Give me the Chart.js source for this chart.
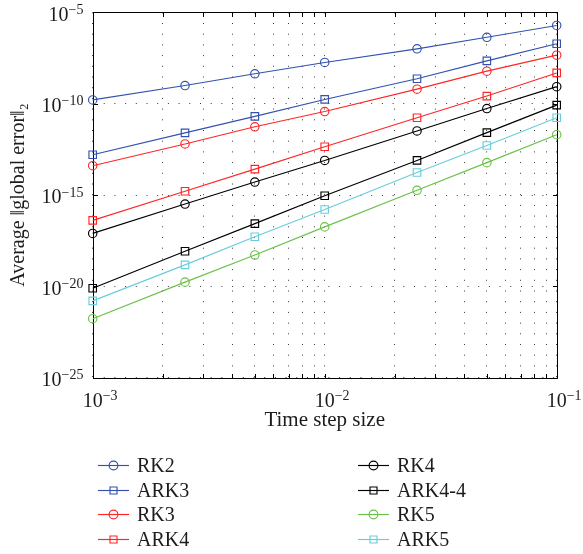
<!DOCTYPE html>
<html><head><meta charset="utf-8">
<script src="https://cdn.jsdelivr.net/npm/chart.js@4/dist/chart.umd.min.js"></script>
<style>html,body{margin:0;padding:0;background:#fff}canvas{display:block}</style>
</head><body>
<canvas id="c" width="583" height="554"></canvas>
<script>
// ---- data ----
const stepSizes = [0.001, 0.0025, 0.005, 0.01, 0.025, 0.05, 0.1];
const seriesNames = ['RK2', 'ARK3', 'RK3', 'ARK4', 'RK4', 'ARK4-4', 'RK5', 'ARK5'];
const rk2   = [1.6e-10, 9.8e-10, 4.3e-9, 1.8e-8, 1.0e-7, 4.3e-7, 1.9e-6];
const ark3  = [1.6e-13, 2.5e-12, 2.0e-11, 1.7e-10, 2.3e-9, 2.2e-8, 1.9e-7];
const rk3   = [4.0e-14, 6.2e-13, 5.4e-12, 3.7e-11, 6.2e-10, 6.0e-9, 4.5e-8];
const ark4  = [4.1e-17, 1.6e-15, 2.6e-14, 4.4e-13, 1.7e-11, 2.6e-10, 4.8e-9];
const rk4   = [7.9e-18, 3.2e-16, 5.1e-15, 7.8e-14, 3.2e-12, 5.4e-11, 8.5e-10];
const ark44 = [7.9e-21, 8.3e-19, 2.7e-17, 9.1e-16, 7.8e-14, 2.6e-12, 8.3e-11];
const rk5   = [1.7e-22, 1.7e-20, 5.2e-19, 1.8e-17, 1.8e-15, 5.9e-14, 2.0e-12];
const ark5  = [1.6e-21, 1.5e-19, 5.2e-18, 1.6e-16, 1.7e-14, 5.1e-13, 1.7e-11];
const seriesValues = [rk2, ark3, rk3, ark4, rk4, ark44, rk5, ark5];

const xTickValues = [0.001, 0.002, 0.003, 0.004, 0.005, 0.006, 0.007, 0.008, 0.009,
                     0.01, 0.02, 0.03, 0.04, 0.05, 0.06, 0.07, 0.08, 0.09, 0.1];
const xMajorValues = [0.001, 0.01, 0.1];
const xMajorExponents = ['−3', '−2', '−1'];
const yTickValues = [1e-25, 1e-20, 1e-15, 1e-10, 1e-5];
const yTickExponents = ['−25', '−20', '−15', '−10', '−5'];
const tickBase = '10';

// ---- styles ----
const BLUE = '#3352AE', RED = '#FF2626', BLACK = '#000000', GREEN = '#6CC04A', CYAN = '#6ACDDC';
const seriesColors = [BLUE, BLUE, RED, RED, BLACK, BLACK, GREEN, CYAN];
const seriesMarkers = ['circle', 'rect', 'circle', 'rect', 'circle', 'rect', 'circle', 'rect'];
const FONT = "'Liberation Serif', 'Times New Roman', serif";
const TEXT = '#1c1c1c';

const datasets = seriesNames.map((name, i) => ({
  label: name,
  data: stepSizes.map((x, j) => ({x: x, y: seriesValues[i][j]})),
  borderColor: seriesColors[i],
  backgroundColor: 'rgba(0,0,0,0)',
  pointBackgroundColor: 'rgba(0,0,0,0)',
  pointBorderColor: seriesColors[i],
  pointStyle: seriesMarkers[i],
  pointRadius: seriesMarkers[i] === 'circle' ? 4.2 : 5.3,
  pointHoverRadius: seriesMarkers[i] === 'circle' ? 4.2 : 5.3,
  pointBorderWidth: 1.15,
  borderWidth: 1.15,
  tension: 0,
  clip: false
}));

const framePlugin = {
  id: 'frame',
  beforeDatasetsDraw(chart) {
    const {ctx, chartArea: a, scales: {x, y}} = chart;
    ctx.save();
    ctx.strokeStyle = '#000';
    ctx.lineWidth = 1;
    ctx.beginPath();
    const L = Math.round(a.left) + 0.5, R = Math.round(a.right) + 0.5;
    const T = Math.round(a.top) + 0.5, B = Math.round(a.bottom) + 0.5;
    ctx.rect(L, T, R - L, B - T);
    xTickValues.forEach(v => {
      const px = Math.round(x.getPixelForValue(v)) + 0.5;
      ctx.moveTo(px, B); ctx.lineTo(px, B - 4.5);
      ctx.moveTo(px, T); ctx.lineTo(px, T + 4.5);
    });
    yTickValues.forEach(v => {
      const py = Math.round(y.getPixelForValue(v)) + 0.5;
      ctx.moveTo(L, py); ctx.lineTo(L + 4.5, py);
      ctx.moveTo(R, py); ctx.lineTo(R - 4.5, py);
    });
    ctx.stroke();
    ctx.restore();
  }
};

// power-of-ten tick labels with raised exponents
const tickLabelPlugin = {
  id: 'powLabels',
  afterDraw(chart) {
    const {ctx, chartArea: a, scales: {x, y}} = chart;
    const baseFont = '20px ' + FONT, expFont = '14px ' + FONT;
    ctx.save();
    ctx.fillStyle = TEXT;
    ctx.textBaseline = 'alphabetic';
    ctx.textAlign = 'left';
    ctx.font = baseFont;
    const baseW = ctx.measureText(tickBase).width;
    // x axis
    xMajorValues.forEach((v, i) => {
      const px = x.getPixelForValue(v);
      const bl = a.bottom + 29;
      ctx.font = baseFont;
      ctx.fillText(tickBase, px - baseW / 2, bl);
      ctx.font = expFont;
      ctx.fillText(xMajorExponents[i], px + baseW / 2, bl - 6.3);
    });
    // y axis
    yTickValues.forEach((v, i) => {
      const py = y.getPixelForValue(v);
      ctx.font = expFont;
      const expW = ctx.measureText(yTickExponents[i]).width;
      const right = a.left - 9.2;
      const bl = py + 8.2;
      ctx.fillText(yTickExponents[i], right - expW, bl - 6.5);
      ctx.font = baseFont;
      ctx.fillText(tickBase, right - expW - baseW, bl);
    });
    ctx.restore();
  }
};

const legendPlugin = {
  id: 'twoColLegend',
  afterDraw(chart) {
    const {ctx} = chart;
    const colX = [98, 358];
    const rowY = [465, 489.5, 514, 538.5];
    ctx.save();
    ctx.font = '20px ' + FONT;
    ctx.textBaseline = 'middle';
    ctx.textAlign = 'left';
    seriesNames.forEach((name, i) => {
      const col = Math.floor(i / 4), row = i % 4;
      const x0 = colX[col], yc = Math.round(rowY[row]) + 0.5;
      ctx.strokeStyle = seriesColors[i];
      ctx.lineWidth = 1.15;
      ctx.beginPath(); ctx.moveTo(x0, yc); ctx.lineTo(x0 + 31, yc); ctx.stroke();
      const cx = x0 + 15.5;
      ctx.beginPath();
      if (seriesMarkers[i] === 'circle') {
        ctx.arc(cx, yc, 4.4, 0, Math.PI * 2);
      } else {
        ctx.rect(cx - 3.5, yc - 3.5, 7, 7);
      }
      ctx.stroke();
      ctx.fillStyle = TEXT;
      ctx.fillText(name, x0 + 39, yc + 1);
    });
    ctx.restore();
  }
};

new Chart(document.getElementById('c'), {
  type: 'line',
  data: {datasets: datasets},
  options: {
    responsive: false,
    animation: false,
    devicePixelRatio: 1,
    events: [],
    layout: {padding: {left: 0, right: 26.3, top: 12.3, bottom: 121}},
    plugins: {legend: {display: false}, tooltip: {enabled: false}},
    scales: {
      x: {
        type: 'logarithmic',
        min: 0.001, max: 0.1,
        afterBuildTicks: s => { s.ticks = xTickValues.map(v => ({value: v})); },
        afterFit: s => { s.height = 55.3; },
        grid: {color: '#3a3a3a', lineWidth: 1, drawTicks: false},
        border: {display: false, dash: [1, 9.7]},
        ticks: {display: false, autoSkip: false},
        title: {display: true, text: 'Time step size', font: {family: FONT, size: 21}, color: TEXT, padding: {top: 0, bottom: 0}}
      },
      y: {
        type: 'logarithmic',
        min: 1e-25, max: 1e-5,
        afterBuildTicks: s => { s.ticks = yTickValues.map(v => ({value: v})); },
        afterFit: s => { s.width = 92.7; },
        grid: {color: '#3a3a3a', lineWidth: 1, drawTicks: false},
        border: {display: false, dash: [1, 9.7]},
        ticks: {display: false, autoSkip: false},
        title: {display: true, text: 'Average ‖global error‖₂', font: {family: FONT, size: 20}, color: TEXT, padding: {top: 7.2, bottom: 0}}
      }
    }
  },
  plugins: [framePlugin, tickLabelPlugin, legendPlugin]
});
</script>
</body></html>
